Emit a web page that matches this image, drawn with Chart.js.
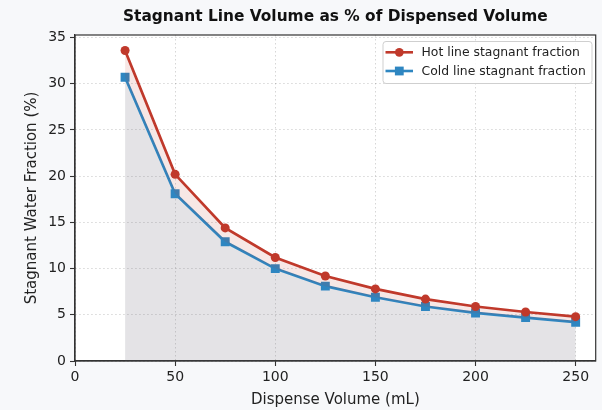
<!DOCTYPE html>
<html>
<head>
<meta charset="utf-8">
<script src="https://cdn.jsdelivr.net/npm/chart.js@4.4.1/dist/chart.umd.min.js"></script>
<style>
  html, body { margin: 0; padding: 0; background: #f7f8fa; }
  #wrap { width: 602px; height: 410px; }
</style>
</head>
<body>
<div id="wrap"><canvas id="c" width="602" height="410"></canvas></div>
<script>
// ---- data ----
const volumes = [25, 50, 75, 100, 125, 150, 175, 200, 225, 250];
const hotFraction = [33.6, 20.2, 14.4, 11.2, 9.2, 7.8, 6.7, 5.9, 5.3, 4.8];
const coldFraction = [30.7, 18.1, 12.9, 10.0, 8.1, 6.9, 5.9, 5.2, 4.7, 4.2];
const xTicks = [0, 50, 100, 150, 200, 250];
const yTicks = [0, 5, 10, 15, 20, 25, 30, 35];
const seriesLabels = ['Hot line stagnant fraction', 'Cold line stagnant fraction'];
const chartTitle = 'Stagnant Line Volume as % of Dispensed Volume';
const xTitle = 'Dispense Volume (mL)';
const yTitle = 'Stagnant Water Fraction (%)';

const HOT = '#c0392b';
const COLD = '#2e86c1';
const FONT = '"DejaVu Sans", sans-serif';

const toPts = (ys) => volumes.map((v, i) => ({ x: v, y: ys[i] }));

const decor = {
  id: 'decor',
  beforeDraw(chart) {
    const { ctx, chartArea: a } = chart;
    ctx.save();
    ctx.fillStyle = '#f7f8fa';
    ctx.fillRect(0, 0, chart.width, chart.height);
    ctx.fillStyle = '#ffffff';
    ctx.fillRect(a.left, a.top, a.right - a.left, a.bottom - a.top);
    ctx.restore();
  },
  afterDraw(chart) {
    const { ctx, chartArea: a } = chart;
    ctx.save();
    // frame
    ctx.strokeStyle = '#333333';
    ctx.lineWidth = 1.2;
    ctx.strokeRect(a.left, a.top, a.right - a.left, a.bottom - a.top);
    // title
    const cx = (a.left + a.right) / 2;
    ctx.fillStyle = '#111111';
    ctx.textAlign = 'center';
    ctx.textBaseline = 'middle';
    ctx.font = 'bold 15.4px ' + FONT;
    ctx.fillText(chartTitle, cx, 17);
    // axis titles
    ctx.font = '15px ' + FONT;
    ctx.fillStyle = '#222222';
    ctx.fillText(xTitle, cx, 400);
    ctx.save();
    ctx.translate(32, (a.top + a.bottom) / 2);
    ctx.rotate(-Math.PI / 2);
    ctx.fillText(yTitle, 0, 0);
    ctx.restore();
    // legend
    const bx = 383, by = 41.5, bw = 209, bh = 42;
    ctx.beginPath();
    if (ctx.roundRect) ctx.roundRect(bx, by, bw, bh, 3); else ctx.rect(bx, by, bw, bh);
    ctx.fillStyle = 'rgba(255,255,255,0.85)';
    ctx.fill();
    ctx.strokeStyle = '#cfcfcf';
    ctx.lineWidth = 1;
    ctx.stroke();
    const rows = [52.3, 71];
    const colors = [HOT, COLD];
    ctx.font = '12.4px ' + FONT;
    ctx.textAlign = 'left';
    rows.forEach((ry, i) => {
      ctx.strokeStyle = colors[i];
      ctx.lineWidth = 2.6;
      ctx.beginPath();
      ctx.moveTo(385.5, ry);
      ctx.lineTo(413, ry);
      ctx.stroke();
      ctx.fillStyle = colors[i];
      if (i === 0) {
        ctx.beginPath();
        ctx.arc(399.3, ry, 4.4, 0, Math.PI * 2);
        ctx.fill();
      } else {
        ctx.fillRect(399.3 - 4.4, ry - 4.4, 8.8, 8.8);
      }
      ctx.fillStyle = '#222222';
      ctx.fillText(seriesLabels[i], 421.5, ry + 0.5);
    });
    ctx.restore();
  }
};

const gridCommon = {
  color: 'rgba(0,0,0,0.18)',
  lineWidth: 0.9,
  tickLength: 5,
  tickColor: '#333333',
  tickWidth: 1.1,
  tickBorderDash: [],
};

new Chart(document.getElementById('c'), {
  type: 'line',
  data: {
    datasets: [
      {
        label: seriesLabels[0],
        data: toPts(hotFraction),
        borderColor: HOT,
        backgroundColor: 'rgba(192,57,43,0.12)',
        borderWidth: 2.7,
        pointStyle: 'circle',
        pointRadius: 4.5,
        pointBackgroundColor: HOT,
        pointBorderWidth: 0,
        tension: 0,
        fill: { target: 1 },
        order: 1
      },
      {
        label: seriesLabels[1],
        data: toPts(coldFraction),
        borderColor: COLD,
        backgroundColor: 'rgba(120,115,130,0.2)',
        borderWidth: 2.7,
        pointStyle: 'rect',
        pointRadius: 6.3,
        pointBackgroundColor: COLD,
        pointBorderWidth: 0,
        tension: 0,
        fill: 'origin',
        order: 2
      }
    ]
  },
  options: {
    responsive: false,
    devicePixelRatio: 1,
    animation: false,
    events: [],
    layout: { padding: { top: 35, right: 6, left: 0, bottom: 0 } },
    plugins: {
      legend: { display: false },
      title: { display: false },
      tooltip: { enabled: false }
    },
    scales: {
      x: {
        type: 'linear',
        min: 0,
        max: 260,
        afterBuildTicks: (s) => { s.ticks = xTicks.map(v => ({ value: v })); },
        afterFit: (s) => { s.height = 49; },
        ticks: { font: { family: FONT, size: 14 }, color: '#222222', padding: 3, maxRotation: 0 },
        grid: gridCommon,
        border: { color: '#333333', width: 1.2, dash: [1.5, 2.5] }
      },
      y: {
        type: 'linear',
        min: 0,
        max: 35.28,
        afterBuildTicks: (s) => { s.ticks = yTicks.map(v => ({ value: v })); },
        afterFit: (s) => { s.width = 75; },
        ticks: { font: { family: FONT, size: 14 }, color: '#222222', padding: 4 },
        grid: gridCommon,
        border: { color: '#333333', width: 1.2, dash: [1.5, 2.5] }
      }
    }
  },
  plugins: [decor]
});
</script>
</body>
</html>
